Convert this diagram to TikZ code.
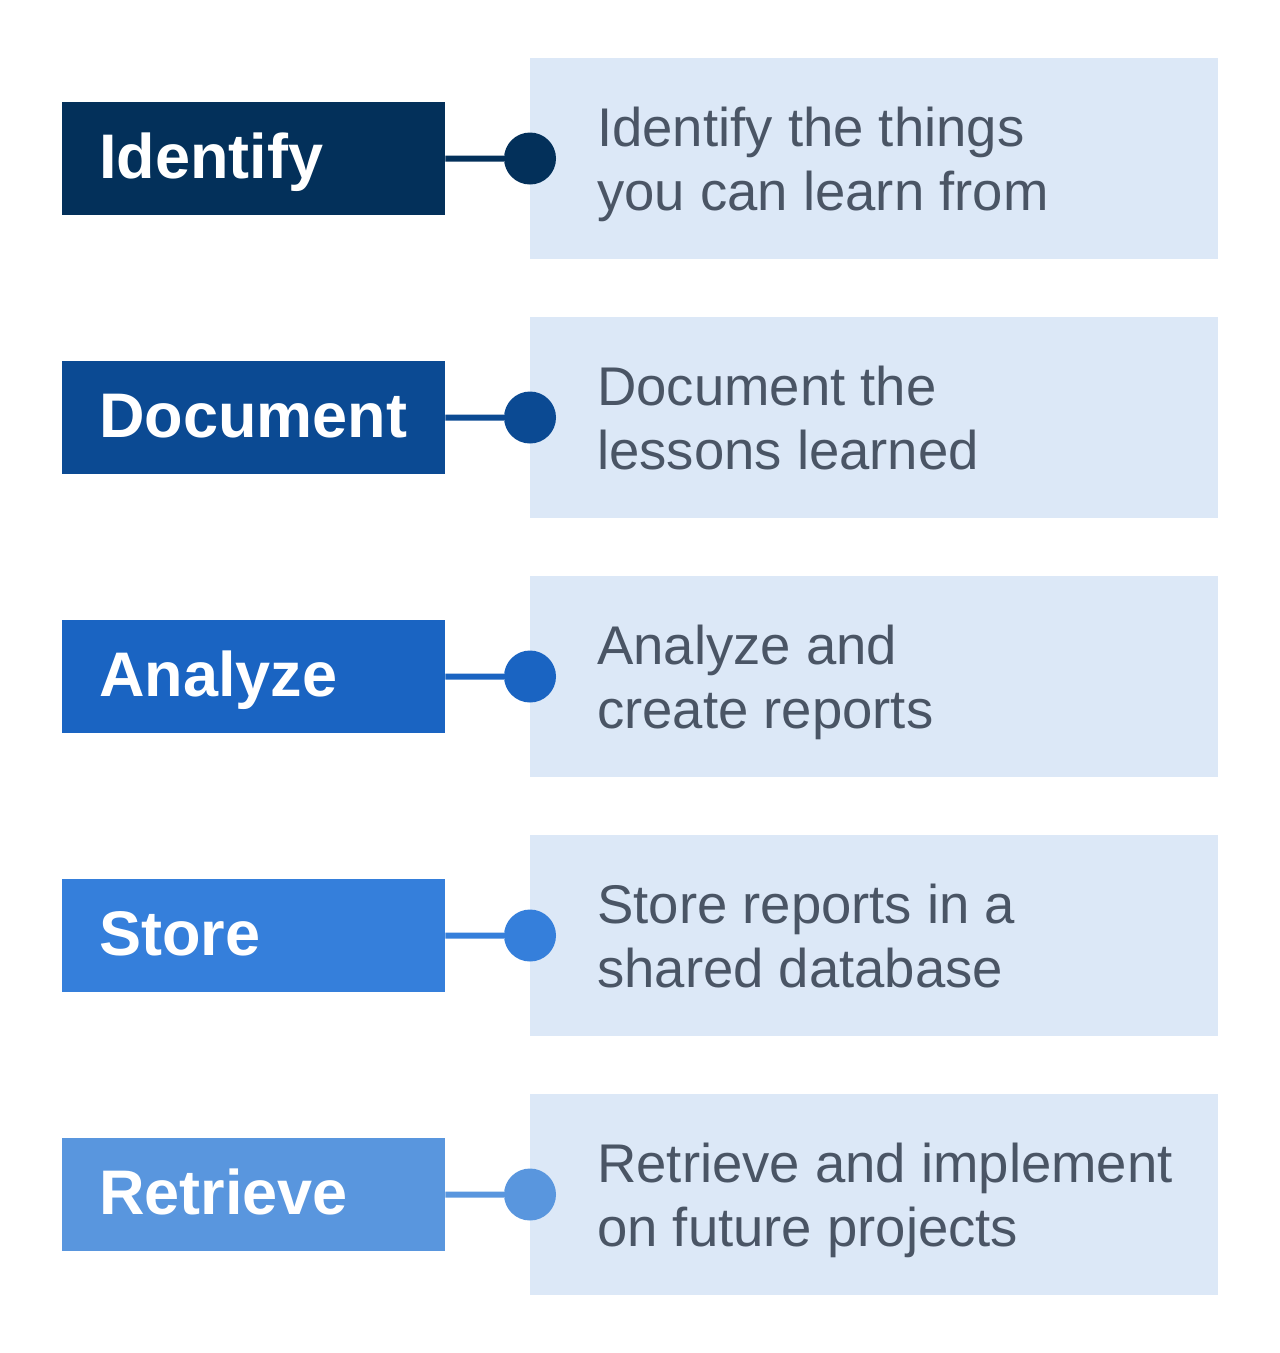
\documentclass[tikz,border=0pt]{standalone}
\usepackage{fontspec}
\setmainfont{Liberation Sans}
\definecolor{cA}{HTML}{03305A}
\definecolor{cB}{HTML}{0B4A93}
\definecolor{cC}{HTML}{1A64C2}
\definecolor{cD}{HTML}{357FDB}
\definecolor{cE}{HTML}{5996DE}
\definecolor{descfill}{HTML}{DCE8F7}
\definecolor{desctext}{HTML}{4A5565}
\begin{document}
\begin{tikzpicture}[x=1pt,y=-1pt,
  labelbox/.style={draw=none,inner sep=0pt,minimum width=383pt,minimum height=113pt,anchor=north west},
  descbox/.style={fill=descfill,draw=none,inner sep=0pt,minimum width=688pt,minimum height=201pt,anchor=north west},
  labeltext/.style={text=white,inner sep=0pt,anchor=base west,font=\fontsize{63}{70}\selectfont\bfseries},
  desctxt/.style={text=desctext,inner sep=0pt,anchor=base west,font=\fontsize{54.5}{64}\selectfont},
  dot/.style={circle,inner sep=0pt,minimum size=52pt},
  link/.style={line width=6pt}
]
\useasboundingbox (0,0) rectangle (1280,1353);
\foreach \i/\col/\lab/\la/\lb in {
  0/cA/Identify/Identify the things/you can learn from,
  1/cB/Document/Document the/lessons learned,
  2/cC/Analyze/Analyze and/create reports,
  3/cD/Store/Store reports in a/shared database,
  4/cE/Retrieve/Retrieve and implement/on future projects}{
  \pgfmathsetmacro{\t}{58+259*\i}
  \node[descbox] (d\i) at (530,\t) {};
  \node[labelbox,fill=\col] (l\i) at (62,\t+44) {};
  \node[dot,fill=\col] (c\i) at (530,\t+100.5) {};
  \draw[link,draw=\col] (l\i.east) -- (c\i.west);
  \node[labeltext] (lt\i) at (99,\t+120) {\lab};
  \node[desctxt] (da\i) at (597,\t+88) {\la};
  \node[desctxt] (db\i) at (597,\t+152.5) {\lb};
}
\end{tikzpicture}
\end{document}
